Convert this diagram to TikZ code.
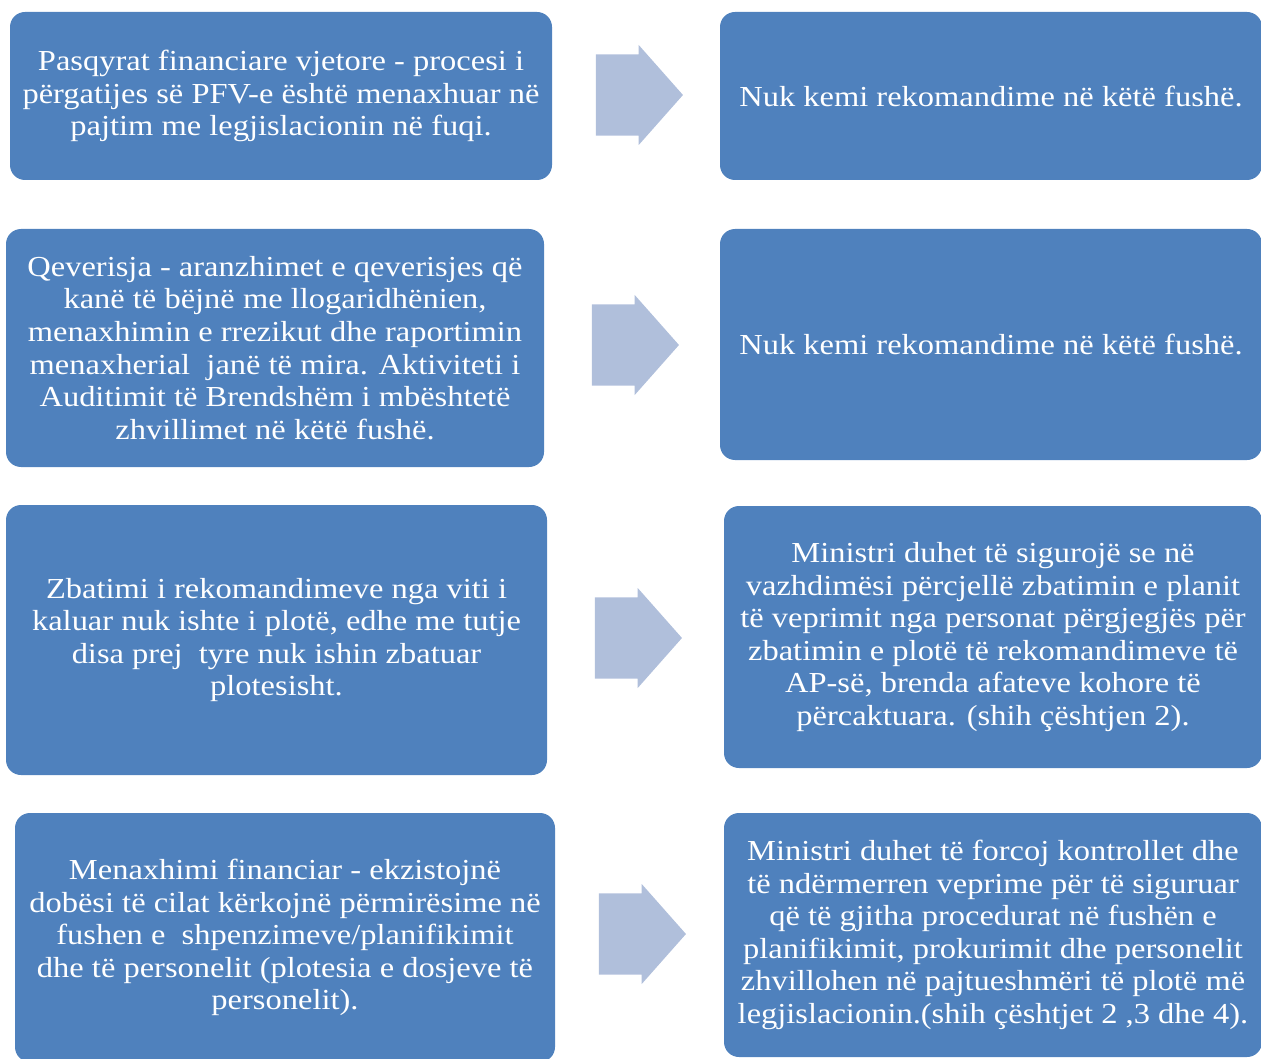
\documentclass[tikz,border=0pt]{standalone}
\usepackage{fontspec}
\setmainfont[FakeStretch=1.12]{Liberation Serif}
\usetikzlibrary{shapes.arrows}
\definecolor{boxblue}{RGB}{79,129,189}
\definecolor{arrowblue}{RGB}{176,191,219}
\tikzset{
  panel/.style={fill=boxblue, rounded corners=15pt, text=white, align=center,
    inner sep=0pt, font=\fontsize{29}{32.6}\selectfont},
  blockarrow/.style={single arrow, fill=arrowblue, inner sep=0pt, inner ysep=30.5pt,
    minimum height=87pt, minimum width=100pt, single arrow tip angle=97, anchor=center}
}
\begin{document}
\begin{tikzpicture}[x=1pt,y=-1pt]
\useasboundingbox (0,0) rectangle (1261,1059);
% left column
\node[panel, minimum width=542pt, minimum height=168pt] (L1) at (281,96)
  {Pasqyrat financiare vjetore - procesi i\\përgatijes së PFV-e është menaxhuar në\\pajtim me legjislacionin në fuqi.};
\node[panel, minimum width=538pt, minimum height=238pt] (L2) at (275,348)
  {Qeverisja - aranzhimet e qeverisjes që\\kanë të bëjnë me llogaridhënien,\\menaxhimin e rrezikut dhe raportimin\\menaxherial\ \ janë të mira. Aktiviteti i\\Auditimit të Brendshëm i mbështetë\\zhvillimet në këtë fushë.};
\node[panel, minimum width=541pt, minimum height=270pt] (L3) at (276.5,640)
  {Zbatimi i rekomandimeve nga viti i\\kaluar nuk ishte i plotë, edhe me tutje\\disa prej\ \ tyre nuk ishin zbatuar\\plotesisht.};
\node[panel, minimum width=540pt, minimum height=249pt] (L4) at (285,937.5)
  {Menaxhimi financiar - ekzistojnë\\dobësi të cilat kërkojnë përmirësime në\\fushen e\ \ shpenzimeve/planifikimit\\dhe të personelit (plotesia e dosjeve të\\personelit).};
% right column
\node[panel, minimum width=542pt, minimum height=168pt] (R1) at (991,96)
  {Nuk kemi rekomandime në këtë fushë.};
\node[panel, minimum width=542pt, minimum height=231pt] (R2) at (991,344.5)
  {Nuk kemi rekomandime në këtë fushë.};
\node[panel, minimum width=538pt, minimum height=262pt] (R3) at (993,637)
  {Ministri duhet të sigurojë se në\\vazhdimësi përcjellë zbatimin e planit\\të veprimit nga personat përgjegjës për\\zbatimin e plotë të rekomandimeve të\\AP-së, brenda afateve kohore të\\përcaktuara. (shih çështjen 2).};
\node[panel, minimum width=538pt, minimum height=244pt] (R4) at (993,935)
  {Ministri duhet të forcoj kontrollet dhe\\të ndërmerren veprime për të siguruar\\që të gjitha procedurat në fushën e\\planifikimit, prokurimit dhe personelit\\zhvillohen në pajtueshmëri të plotë më\\legjislacionin.(shih çështjet 2 ,3 dhe 4).};
% arrows
\node[blockarrow] (A1) at (621.5,95) {};
\node[blockarrow] (A2) at (617.5,345) {};
\node[blockarrow] (A3) at (620.5,638) {};
\node[blockarrow] (A4) at (624.5,934) {};
\end{tikzpicture}
\end{document}
